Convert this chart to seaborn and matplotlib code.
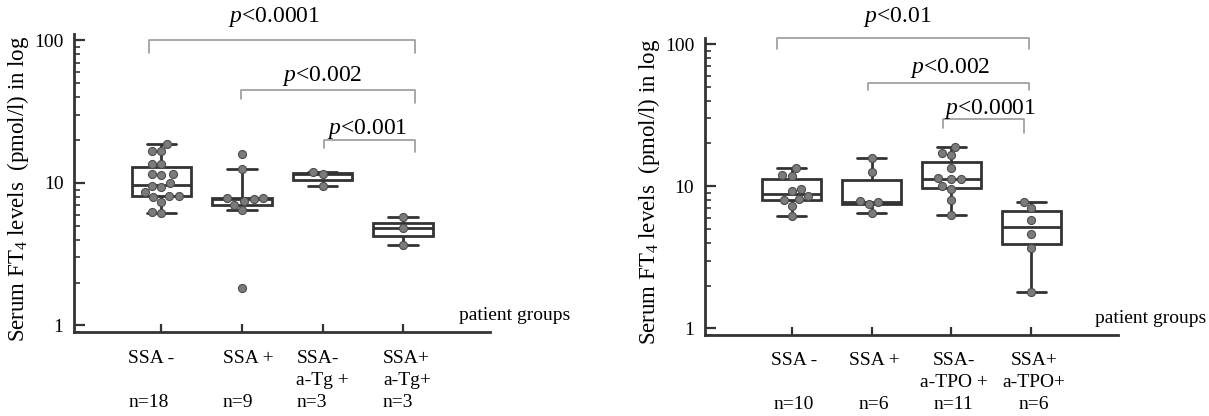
import numpy as np
import pandas as pd
import matplotlib
matplotlib.use("Agg")
import matplotlib.pyplot as plt
import seaborn as sns
from matplotlib.ticker import LogLocator, NullFormatter, FixedLocator

# ---------------- data ----------------
# Panel A: anti-thyroglobulin groups
groups_a = ["SSA -", "SSA +", "SSA-\na-Tg +", "SSA+\na-Tg+"]
n_a = ["n=18", "n=9", "n=3", "n=3"]
ssa_neg_a = [18.9, 16.9, 16.8, 13.7, 13.6, 11.5, 11.4, 11.5, 10.0,
             9.5, 9.4, 8.6, 8.05, 8.0, 8.1, 7.4, 6.2, 6.25]
ssa_pos_a = [16.0, 12.5, 7.5, 7.7, 7.8, 7.85, 7.05, 6.5, 1.82]
ssa_neg_tg = [11.9, 11.6, 9.5]
ssa_pos_tg = [5.8, 4.8, 3.7]

# Panel B: anti-TPO groups
groups_b = ["SSA -", "SSA +", "SSA-\na-TPO +", "SSA+\na-TPO+"]
n_b = ["n=10", "n=6", "n=11", "n=6"]
ssa_neg_b = [13.5, 12.0, 11.8, 9.5, 9.3, 8.5, 8.1, 8.0, 7.3, 6.15]
ssa_pos_b = [15.9, 12.5, 7.5, 7.75, 7.85, 6.5]
ssa_neg_tpo = [18.9, 17.0, 16.5, 13.4, 11.4, 11.3, 11.2, 10.0, 9.6, 8.05, 6.25]
ssa_pos_tpo = [7.7, 7.0, 5.8, 4.65, 3.7, 1.8]

pvals_a = ["0.0001", "0.002", "0.001"]
pvals_b = ["0.01", "0.002", "0.0001"]

def long_df(groups, series):
    rows = []
    for g, vals in zip(groups, series):
        for v in vals:
            rows.append((g, v))
    return pd.DataFrame(rows, columns=["group", "value"])

df_a = long_df(groups_a, [ssa_neg_a, ssa_pos_a, ssa_neg_tg, ssa_pos_tg])
df_b = long_df(groups_b, [ssa_neg_b, ssa_pos_b, ssa_neg_tpo, ssa_pos_tpo])

# ---------------- style ----------------
sns.set_style("ticks")
plt.rcParams["font.family"] = ["Liberation Serif", "DejaVu Serif"]
plt.rcParams["mathtext.fontset"] = "custom"
plt.rcParams["mathtext.rm"] = "Liberation Serif"
plt.rcParams["mathtext.it"] = "Liberation Serif:italic"
for key in ["text.color", "axes.labelcolor", "xtick.labelcolor", "ytick.labelcolor"]:
    plt.rcParams[key] = "black"
DARK = "#333333"

fig = plt.figure(figsize=(12.09, 4.16), dpi=100)
ax_a = fig.add_axes([0.0616, 0.2019, 0.3437, 0.7163])
ax_b = fig.add_axes([0.5834, 0.1947, 0.3411, 0.7150])

def draw_panel(ax, df, groups, pg_x):
    sns.boxplot(data=df, x="group", y="value", order=groups, ax=ax,
                log_scale=True, width=0.74, whis=5, showfliers=False,
                color="white", linecolor=DARK, linewidth=2, saturation=1)
    sns.swarmplot(data=df, x="group", y="value", order=groups, ax=ax,
                  color="#7b7b7b", size=5.8, edgecolor="#4d4d4d",
                  linewidth=0.8, zorder=4)
    ax.set_xlim(-1.08, 4.08)
    ax.set_ylim(0.9, 111)
    ax.set_xlabel("")
    ax.set_ylabel(r"Serum FT$_\mathrm{4}$ levels  (pmol/l) in log",
                  fontsize=16.5, color="black")
    ax.yaxis.set_label_coords(-0.105, 0.48)
    ax.yaxis.set_major_locator(FixedLocator([1, 10, 100]))
    ax.set_yticklabels(["1", "10", "100"])
    ax.yaxis.set_minor_locator(LogLocator(base=10, subs=np.arange(2, 10)))
    ax.yaxis.set_minor_formatter(NullFormatter())
    ax.set_xticks(range(len(groups)))
    ax.set_xticklabels([""] * len(groups))
    ax.tick_params(axis="y", which="major", direction="in", length=8,
                   width=1.6, color=DARK, labelsize=14, pad=8,
                   labelcolor="black")
    ax.tick_params(axis="y", which="minor", direction="in", length=4.5,
                   width=1.2, color=DARK)
    ax.tick_params(axis="x", which="major", direction="in", length=6,
                   width=1.6, color=DARK)
    for side in ["top", "right"]:
        ax.spines[side].set_visible(False)
    for side in ["left", "bottom"]:
        ax.spines[side].set_linewidth(2)
        ax.spines[side].set_color(DARK)
    ax.text(pg_x, 1.1, "patient groups", fontsize=14, ha="left",
            va="baseline", clip_on=False, color="black")

def bracket(ax, x1, x2, y, yl, yr, tx, ty, p):
    ax.plot([x1, x1, x2, x2], [yl, y, y, yr], color="#9a9a9a", lw=1.2,
            clip_on=False, zorder=2)
    ax.text(tx, ty, r"$\mathit{p}$<" + p, fontsize=17, ha="center",
            va="center", clip_on=False, color="black")

draw_panel(ax_a, df_a, groups_a, 3.70)
draw_panel(ax_b, df_b, groups_b, 3.79)

bracket(ax_a, -0.15, 3.15, 100, 82, 82, 1.40, 147, pvals_a[0])
bracket(ax_a, 0.99, 3.15, 44.7, 38.8, 36.6, 2.0, 56.6, pvals_a[1])
bracket(ax_a, 2.02, 3.15, 20.1, 17.7, 16.4, 2.55, 24.0, pvals_a[2])

bracket(ax_b, -0.18, 2.97, 110.8, 91.8, 91.8, 1.32, 155.6, pvals_b[0])
bracket(ax_b, 0.96, 2.97, 52.9, 47.4, 47.4, 1.98, 67.5, pvals_b[1])
bracket(ax_b, 1.90, 2.91, 29.5, 25.5, 23.7, 2.48, 34.7, pvals_b[2])

# category labels under the axes
dx_a = [-0.41, -0.24, -0.325, -0.25]
for i, (g, n) in enumerate(zip(groups_a, n_a)):
    lab = g + "\n" + n if "\n" in g else g + "\n\n" + n
    ax_a.annotate(lab, xy=(i + dx_a[i], 0), xycoords=("data", "axes fraction"),
                  xytext=(0, -13), textcoords="offset points", ha="left",
                  va="top", fontsize=14, linespacing=1.38, color="black",
                  multialignment="left", annotation_clip=False)
for i, (g, n) in enumerate(zip(groups_b, n_b)):
    lab = g + "\n" + n if "\n" in g else g + "\n\n" + n
    ax_b.annotate(lab, xy=(i + 0.03, 0), xycoords=("data", "axes fraction"),
                  xytext=(0, -12), textcoords="offset points", ha="center",
                  va="top", fontsize=14, linespacing=1.38, color="black",
                  multialignment="center", annotation_clip=False)

fig.savefig("out.png", dpi=100)
